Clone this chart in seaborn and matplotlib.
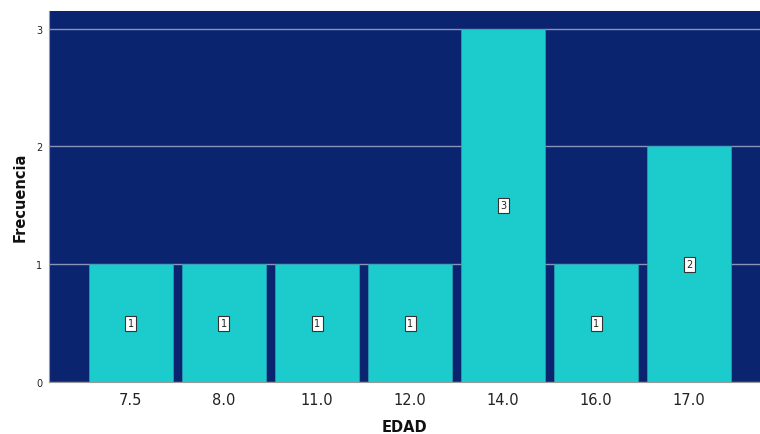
import matplotlib
matplotlib.use("Agg")
import matplotlib.pyplot as plt
import seaborn as sns
import pandas as pd

edad = ["7.5", "8.0", "11.0", "12.0", "14.0", "16.0", "17.0"]
frecuencia = [1, 1, 1, 1, 3, 1, 2]

df = pd.DataFrame({"EDAD": edad, "Frecuencia": frecuencia})

sns.set_style("white")
plt.rcParams["font.family"] = ["DejaVu Sans"]

fig = plt.figure(figsize=(7.6, 4.35), dpi=100)
ax = fig.add_axes([0.0645, 0.1195, 0.9355, 0.853])
ax.set_facecolor("#0a2470")

sns.barplot(data=df, x="EDAD", y="Frecuencia", order=edad, color="#1ccccc",
            saturation=1, width=0.9, ax=ax, edgecolor="#2a9fb8", linewidth=0.5, zorder=3)

ax.set_ylim(0, 3.15)
ax.set_xlim(-0.88, 6.76)
ax.set_yticks([0, 1, 2, 3])
ax.yaxis.grid(True, color="#8a94b8", linewidth=1.0, zorder=1)
ax.set_axisbelow(True)
for s in ["top", "right"]:
    ax.spines[s].set_visible(False)
ax.spines["left"].set_color("#999999")
ax.spines["bottom"].set_color("#999999")
ax.spines["left"].set_linewidth(0.8)
ax.spines["bottom"].set_linewidth(0.8)

ax.tick_params(axis="x", labelsize=10.5, length=0, pad=7, colors="#222222")
ax.tick_params(axis="y", labelsize=7, length=3, pad=2, colors="#222222")

for i, v in enumerate(frecuencia):
    ax.text(i, v / 2, str(v), ha="center", va="center", fontsize=7, color="#222222",
            zorder=5, bbox=dict(boxstyle="square,pad=0.25", fc="white", ec="#333333", lw=0.8))

ax.set_xlabel("EDAD", fontsize=10.5, fontweight="bold", labelpad=9, color="#111111")
ax.set_ylabel("Frecuencia", fontsize=10.5, fontweight="bold", labelpad=6, color="#111111")

fig.savefig("out.png", dpi=100)
